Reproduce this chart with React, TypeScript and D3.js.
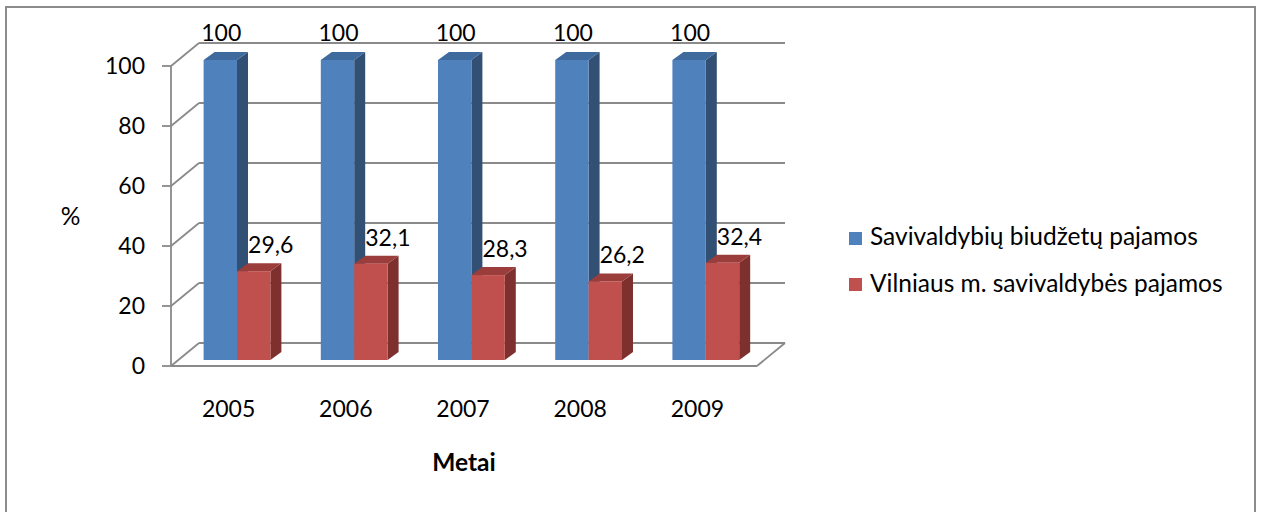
import React from "react";
import * as d3 from "d3";

const years = ["2005", "2006", "2007", "2008", "2009"];
const seriesNames = ["Savivaldybių biudžetų pajamos", "Vilniaus m. savivaldybės pajamos"];
const savivaldybiu = [100, 100, 100, 100, 100];
const vilniaus = [29.6, 32.1, 28.3, 26.2, 32.4];
const yTicks = [0, 20, 40, 60, 80, 100];
const labelsSav = ["100", "100", "100", "100", "100"];
const labelsVil = ["29,6", "32,1", "28,3", "26,2", "32,4"];

const FONT = "Lato, 'Open Sans', sans-serif";

export default function App() {
  const W = 1262, H = 512;
  const x0 = 171, x1 = 757, floorY = 366;
  const DX = 28, DY = -23; // wall depth
  const fdx = 7.4, fdy = -6; // bar front offset within depth
  const bdx = 11, bdy = -8; // bar depth
  const gridColor = "#8a8a8a";
  const NUM = 23;
  const TXT = 24.5;

  const x = d3.scaleBand<string>().domain(years).range([x0, x1]);
  const xs = d3.scaleBand<number>().domain([0, 1]).range([0, x.bandwidth()]).paddingOuter(0.755).paddingInner(0);
  const hScale = d3.scaleLinear().domain([0, 100]).range([0, 300]);
  const yFront = (v: number) => floorY - hScale(v);

  const colors = [
    { front: "#4F81BD", top: "#3F6A9E", side: "#324F74" },
    { front: "#C0504D", top: "#9B3D3B", side: "#7D302E" },
  ];
  const data = [savivaldybiu, vilniaus];
  const labels = [labelsSav, labelsVil];

  const bars: JSX.Element[] = [];
  const texts: JSX.Element[] = [];
  years.forEach((yr, i) => {
    [0, 1].forEach((s) => {
      const v = data[s][i];
      const bx = (x(yr) as number) + (xs(s) as number) + fdx;
      const bw = xs.bandwidth();
      const by0 = floorY + fdy;
      const byt = by0 - hScale(v);
      const c = colors[s];
      bars.push(
        <g key={`b${i}-${s}`}>
          <polygon
            points={`${bx + bw},${by0} ${bx + bw + bdx},${by0 + bdy} ${bx + bw + bdx},${byt + bdy} ${bx + bw},${byt}`}
            fill={c.side}
          />
          <polygon
            points={`${bx},${byt} ${bx + bw},${byt} ${bx + bw + bdx},${byt + bdy} ${bx + bdx},${byt + bdy}`}
            fill={c.top}
          />
          <rect x={bx} y={byt} width={bw} height={by0 - byt} fill={c.front} />
        </g>
      );
      const cx = bx + bw / 2 + (s === 0 ? 1 : 17);
      const ty = byt + bdy - (s === 0 ? 11 : 10);
      texts.push(
        <text key={`t${i}-${s}`} x={cx} y={ty} textAnchor="middle" fontSize={NUM} fontFamily={FONT} fill="#000">
          {labels[s][i]}
        </text>
      );
    });
  });

  return (
    <svg width={W} height={H} style={{ position: "absolute", left: 0, top: 0, background: "#fff" }}>
      <rect x={6} y={7} width={1249} height={520} fill="#fff" stroke="#8c8c8c" strokeWidth={2} />
      {yTicks.map((t) => (
        <g key={`g${t}`}>
          <line x1={x0 + DX} x2={x1 + DX} y1={yFront(t) + DY} y2={yFront(t) + DY} stroke={gridColor} strokeWidth={1.8} />
          <line x1={x0} x2={x0 + DX} y1={yFront(t)} y2={yFront(t) + DY} stroke={gridColor} strokeWidth={1.8} />
          <line x1={x0 - 9} x2={x0} y1={yFront(t)} y2={yFront(t)} stroke={gridColor} strokeWidth={1.8} />
          <text x={145} y={yFront(t) + 8} textAnchor="end" fontSize={NUM} fontFamily={FONT} fill="#000">
            {t}
          </text>
        </g>
      ))}
      <line x1={x0} x2={x0} y1={yFront(100)} y2={floorY} stroke={gridColor} strokeWidth={1.8} />
      <line x1={x0} x2={x1} y1={floorY} y2={floorY} stroke={gridColor} strokeWidth={1.8} />
      <line x1={x1} x2={x1 + DX} y1={floorY} y2={floorY + DY} stroke={gridColor} strokeWidth={1.8} />
      {bars}
      {texts}
      {years.map((yr) => (
        <text key={yr} x={(x(yr) as number) + x.bandwidth() / 2 - 1} y={417} textAnchor="middle" fontSize={NUM} fontFamily={FONT} fill="#000">
          {yr}
        </text>
      ))}
      <text x={(x0 + x1) / 2} y={471} textAnchor="middle" fontSize={TXT} fontWeight="bold" fontFamily={FONT} fill="#000">
        Metai
      </text>
      <text x={70.5} y={225} textAnchor="middle" fontSize={TXT} fontFamily={FONT} fill="#000">
        %
      </text>
      {seriesNames.map((n, i) => (
        <g key={n}>
          <rect x={849} y={232 + i * 46} width={13} height={13} fill={colors[i].front} />
          <text x={870} y={245 + i * 47} fontSize={TXT} fontFamily={FONT} fill="#000">
            {n}
          </text>
        </g>
      ))}
    </svg>
  );
}
